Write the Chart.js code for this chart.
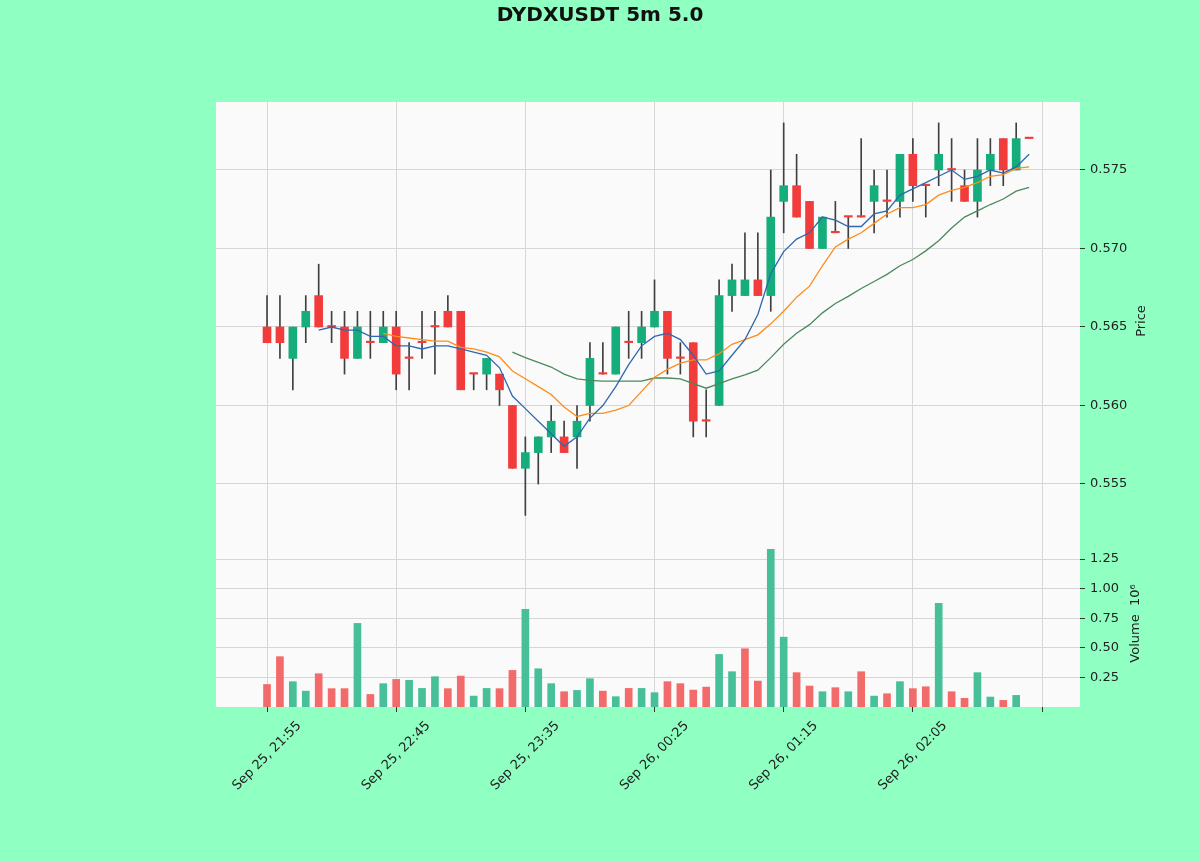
<!DOCTYPE html>
<html>
<head>
<meta charset="utf-8">
<title>DYDXUSDT 5m 5.0</title>
<script src="https://cdn.jsdelivr.net/npm/chart.js@4.4.1/dist/chart.umd.min.js"></script>
<style>
  html, body { margin: 0; padding: 0; background: #8fffc2; }
  canvas { display: block; }
</style>
</head>
<body>
<canvas id="chart" width="1200" height="862"></canvas>
<script>
// 5-minute candles, Sep 25 21:55 -> Sep 26 02:50
const opens  = [0.565,0.565,0.563,0.565,0.567,0.565,0.565,0.563,0.564,0.564,
                0.565,0.563,0.564,0.565,0.566,0.566,0.562,0.562,0.562,0.560,
                0.556,0.557,0.558,0.558,0.558,0.560,0.562,0.562,0.564,0.564,
                0.565,0.566,0.563,0.564,0.559,0.560,0.567,0.567,0.568,0.567,
                0.573,0.574,0.573,0.570,0.571,0.572,0.572,0.573,0.573,0.573,
                0.576,0.574,0.575,0.575,0.574,0.573,0.575,0.577,0.575,0.577];
const highs  = [0.567,0.567,0.565,0.567,0.569,0.566,0.566,0.566,0.566,0.566,
                0.566,0.564,0.566,0.566,0.567,0.566,0.562,0.563,0.562,0.560,
                0.558,0.558,0.560,0.559,0.560,0.564,0.564,0.565,0.566,0.566,
                0.568,0.566,0.564,0.564,0.561,0.568,0.569,0.571,0.571,0.575,
                0.578,0.576,0.573,0.572,0.573,0.572,0.577,0.575,0.575,0.576,
                0.577,0.574,0.578,0.577,0.575,0.577,0.577,0.577,0.578,0.577];
const lows   = [0.564,0.563,0.561,0.564,0.565,0.564,0.562,0.563,0.563,0.564,
                0.561,0.561,0.563,0.562,0.565,0.561,0.561,0.561,0.560,0.556,
                0.553,0.555,0.557,0.557,0.556,0.559,0.562,0.562,0.563,0.563,
                0.565,0.562,0.562,0.558,0.558,0.560,0.566,0.567,0.567,0.566,
                0.571,0.572,0.570,0.570,0.571,0.570,0.572,0.571,0.572,0.572,
                0.573,0.572,0.574,0.573,0.573,0.572,0.574,0.574,0.575,0.577];
const closes = [0.564,0.564,0.565,0.566,0.565,0.565,0.563,0.565,0.564,0.565,
                0.562,0.563,0.564,0.565,0.565,0.561,0.562,0.563,0.561,0.556,
                0.557,0.558,0.559,0.557,0.559,0.563,0.562,0.565,0.564,0.565,
                0.566,0.563,0.563,0.559,0.559,0.567,0.568,0.568,0.567,0.572,
                0.574,0.572,0.570,0.572,0.571,0.572,0.572,0.574,0.573,0.576,
                0.574,0.574,0.576,0.575,0.573,0.575,0.576,0.575,0.577,0.577];
// volume in millions
const volumesM = [0.190,0.425,0.214,0.134,0.281,0.155,0.155,0.706,0.106,0.197,
                  0.233,0.225,0.157,0.256,0.155,0.261,0.092,0.157,0.155,0.309,
                  0.824,0.323,0.197,0.129,0.140,0.239,0.134,0.087,0.157,0.157,
                  0.121,0.214,0.197,0.143,0.168,0.444,0.298,0.492,0.219,1.331,
                  0.590,0.290,0.177,0.129,0.163,0.129,0.298,0.092,0.112,0.214,
                  0.155,0.171,0.875,0.129,0.073,0.290,0.084,0.056,0.098,0.000];

const timeTickIdx    = [0, 10, 20, 30, 40, 50, 60];
const timeTickLabels = ['Sep 25, 21:55', 'Sep 25, 22:45', 'Sep 25, 23:35',
                        'Sep 26, 00:25', 'Sep 26, 01:15', 'Sep 26, 02:05', ''];
const priceTicks  = [0.555, 0.560, 0.565, 0.570, 0.575];
const volumeTicks = [0.25, 0.50, 0.75, 1.00, 1.25];
const maWindows   = [5, 10, 20];

const UP = '#14ad7b', DOWN = '#f23c3c';
const VOL_UP = '#47bf98', VOL_DOWN = '#f26a6a';
const MA_COLORS = ['#2f68ad', '#ff8c1a', '#4a8a5c'];
const GRID = '#d6d6d6';
const FONT = '"DejaVu Sans", sans-serif';

function movingAverage(values, n) {
  const out = [];
  for (let i = n - 1; i < values.length; i++) {
    let s = 0;
    for (let k = i - n + 1; k <= i; k++) s += values[k];
    out.push({ x: i, y: s / n });
  }
  return out;
}

const idx = closes.map((_, i) => i);

const paintBackground = {
  id: 'paintBackground',
  beforeDraw(chart) {
    const { ctx, chartArea: a } = chart;
    ctx.save();
    ctx.fillStyle = '#8fffc2';
    ctx.fillRect(0, 0, chart.width, chart.height);
    ctx.fillStyle = '#fafafa';
    ctx.fillRect(a.left, a.top, a.right - a.left, a.bottom - a.top);
    ctx.restore();
  }
};

const textLayer = {
  id: 'textLayer',
  afterDraw(chart) {
    const { ctx } = chart;
    const xs = chart.scales.x;
    ctx.save();
    ctx.fillStyle = '#111';
    ctx.font = 'bold 20px ' + FONT;
    ctx.textAlign = 'center';
    ctx.textBaseline = 'middle';
    ctx.fillText('DYDXUSDT 5m 5.0', 600, 16);

    ctx.fillStyle = '#222';
    ctx.font = '13px ' + FONT;
    timeTickIdx.forEach((v, k) => {
      const label = timeTickLabels[k];
      if (!label) return;
      ctx.save();
      ctx.translate(xs.getPixelForValue(v), 756);
      ctx.rotate(-Math.PI / 4);
      ctx.fillText(label, 0, 0);
      ctx.restore();
    });

    const yp = chart.scales.y, yv = chart.scales.yVol;
    ctx.save();
    ctx.translate(1142, (yp.top + yp.bottom) / 2);
    ctx.rotate(-Math.PI / 2);
    ctx.fillText('Price', 0, 0);
    ctx.restore();
    ctx.save();
    ctx.translate(1136, (yv.top + yv.bottom) / 2);
    ctx.rotate(-Math.PI / 2);
    ctx.fillText('Volume  10\u2076', 0, 0);
    ctx.restore();
    ctx.restore();
  }
};

const datasets = [
  {
    type: 'bar', label: 'wick', yAxisID: 'y', order: 3,
    data: idx.map(i => ({ x: i, y: [lows[i], highs[i]] })),
    backgroundColor: '#404040', barThickness: 1, grouped: false
  },
  {
    type: 'bar', label: 'body', yAxisID: 'y', order: 2,
    data: idx.map(i => ({ x: i, y: [opens[i], closes[i]] })),
    backgroundColor: idx.map(i => closes[i] > opens[i] ? UP : DOWN),
    barThickness: 8, minBarLength: 1.5, grouped: false
  },
  {
    type: 'bar', label: 'volume', yAxisID: 'yVol', order: 2,
    data: idx.map(i => ({ x: i, y: volumesM[i] > 0 ? volumesM[i] : null })),
    backgroundColor: idx.map(i => (i > 0 && closes[i] > closes[i - 1]) ? VOL_UP : VOL_DOWN),
    barThickness: 7, grouped: false
  }
];
maWindows.forEach((n, k) => {
  datasets.push({
    type: 'line', label: 'MA' + n, yAxisID: 'y', order: 1,
    data: movingAverage(closes, n),
    borderColor: MA_COLORS[k], borderWidth: 1.3,
    pointRadius: 0, tension: 0, fill: false
  });
});

new Chart(document.getElementById('chart'), {
  type: 'bar',
  data: { datasets },
  options: {
    responsive: false,
    devicePixelRatio: 1,
    animation: false,
    layout: { padding: { top: 102, left: 216, right: 0, bottom: 0 } },
    plugins: { legend: { display: false }, tooltip: { enabled: false }, title: { display: false } },
    scales: {
      x: {
        type: 'linear', min: -3.95, max: 62.94, offset: false,
        afterBuildTicks: s => { s.ticks = timeTickIdx.map(v => ({ value: v })); },
        afterFit: s => { s.height = 155; },
        ticks: { callback: () => '' },
        grid: { offset: false, color: GRID, lineWidth: 1, tickLength: 5, tickColor: '#333' },
        border: { display: false }
      },
      y: {
        type: 'linear', position: 'right', stack: 'panels', stackWeight: 438,
        min: 0.551433, max: 0.579331,
        afterBuildTicks: s => { s.ticks = priceTicks.map(v => ({ value: v })); },
        afterFit: s => { s.width = 120; },
        ticks: { callback: v => Number(v).toFixed(3), color: '#222', font: { family: FONT, size: 13 }, padding: 5 },
        grid: { color: GRID, lineWidth: 1, tickLength: 5, tickColor: '#333' },
        border: { display: false }
      },
      yVol: {
        type: 'linear', position: 'right', stack: 'panels', stackWeight: 167,
        min: 0, max: 1.4105,
        afterBuildTicks: s => { s.ticks = volumeTicks.map(v => ({ value: v })); },
        afterFit: s => { s.width = 120; },
        ticks: { callback: v => Number(v).toFixed(2), color: '#222', font: { family: FONT, size: 13 }, padding: 5 },
        grid: { color: GRID, lineWidth: 1, tickLength: 5, tickColor: '#333' },
        border: { display: false }
      }
    }
  },
  plugins: [paintBackground, textLayer]
});
</script>
</body>
</html>
